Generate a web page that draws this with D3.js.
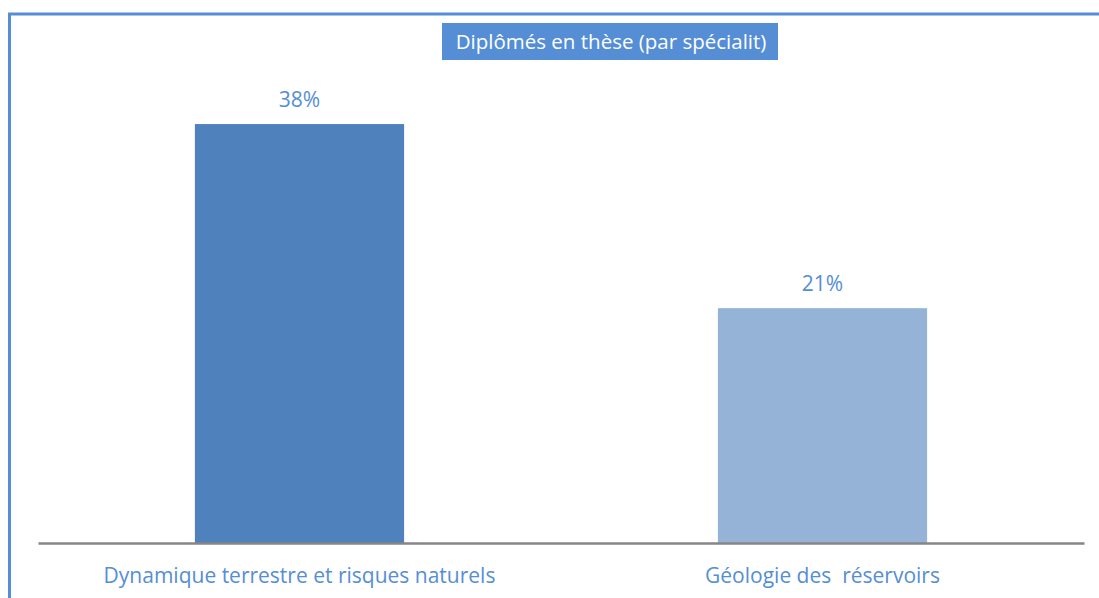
<!DOCTYPE html>
<html><head><meta charset="utf-8">
<script src="https://cdn.jsdelivr.net/npm/d3@7"></script>
<style>body{margin:0;background:#fff}svg{display:block}text{white-space:pre}</style>
</head><body>
<script>
const categories = ["Dynamique terrestre et risques naturels", "Géologie des  réservoirs"];
const values = [38, 21.3];
const colors = ["#4f81bd", "#95b3d7"];
const title = "Diplômés en thèse (par spécialit)";

const W = 1099, H = 598;
const svg = d3.select("body").append("svg").attr("width", W).attr("height", H);
const font = "'Open Sans', sans-serif";

// outer border
svg.append("rect").attr("x", 9.5).attr("y", 14).attr("width", W + 10).attr("height", H + 10)
  .attr("fill", "none").attr("stroke", "#558ed5").attr("stroke-width", 3);

const x = d3.scaleBand().domain(categories).range([38, 1084]).paddingInner(0.6).paddingOuter(0.3);
const y = d3.scaleLinear().domain([0, 40]).range([543, 102]);

svg.selectAll("rect.bar").data(values).enter().append("rect").attr("class", "bar")
  .attr("x", (d, i) => x(categories[i]))
  .attr("y", d => y(d))
  .attr("width", x.bandwidth())
  .attr("height", d => y(0) - y(d))
  .attr("fill", (d, i) => colors[i]);

svg.selectAll("text.val").data(values).enter().append("text").attr("class", "val")
  .attr("x", (d, i) => x(categories[i]) + x.bandwidth() / 2)
  .attr("y", d => y(d) - 17)
  .attr("text-anchor", "middle").attr("font-family", font).attr("font-size", 21)
  .attr("fill", "#558ed5").text(d => Math.round(d) + "%");

// axis
const ax = svg.append("g").attr("transform", `translate(0,${y(0)})`)
  .call(d3.axisBottom(x).tickSize(0).tickPadding(25));
ax.select(".domain").attr("stroke", "#868686").attr("stroke-width", 2.5);
ax.selectAll("text").attr("font-family", font).attr("font-size", 21).attr("fill", "#558ed5");

// title box
const tg = svg.append("g");
tg.append("rect").attr("x", 442).attr("y", 23).attr("width", 336).attr("height", 37).attr("fill", "#558ed5");
tg.append("text").attr("x", 611).attr("y", 49).attr("text-anchor", "middle")
  .attr("font-family", font).attr("font-size", 20.5).attr("fill", "#fff").text(title);
</script>
</body></html>
